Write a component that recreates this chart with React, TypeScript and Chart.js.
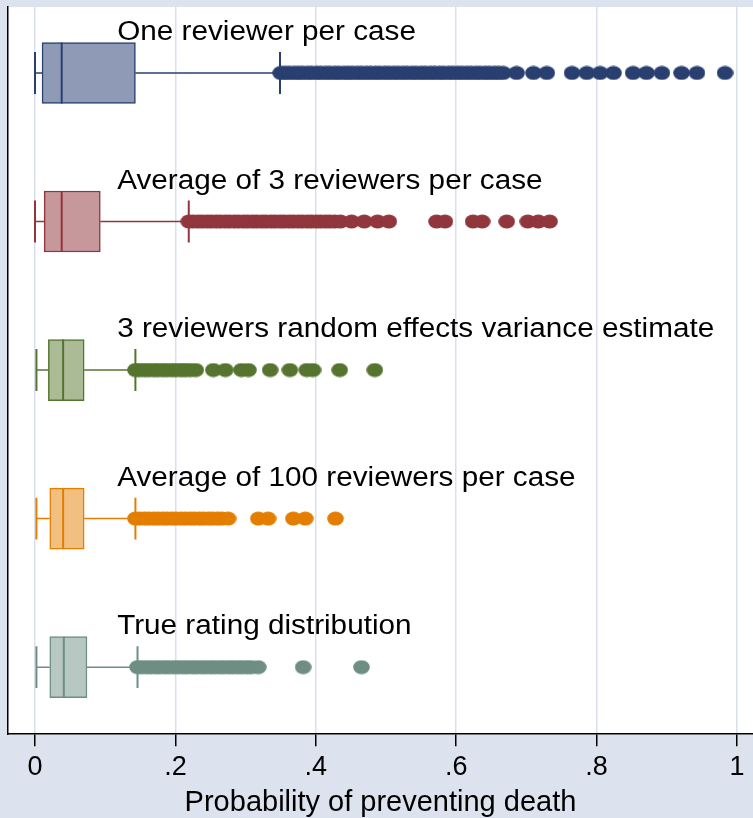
import React, { useEffect, useRef } from 'react';
import { Chart, registerables } from 'chart.js';

Chart.register(...registerables);

// ---- data ----
const categories = [
  'One reviewer per case',
  'Average of 3 reviewers per case',
  '3 reviewers random effects variance estimate',
  'Average of 100 reviewers per case',
  'True rating distribution',
];

const lowerWhisker = [0.0, 0.0, 0.002, 0.002, 0.002];
const q1 = [0.010, 0.013, 0.019, 0.021, 0.021];
const median = [0.038, 0.038, 0.040, 0.040, 0.041];
const q3 = [0.143, 0.093, 0.070, 0.070, 0.074];
const upperWhisker = [0.349, 0.219, 0.143, 0.143, 0.146];

const outliersOneReviewer = [
  0.350, 0.356, 0.362, 0.369, 0.375, 0.381, 0.388, 0.394, 0.401, 0.407, 0.414, 0.420, 0.427,
  0.433, 0.440, 0.446, 0.452, 0.459, 0.465, 0.472, 0.478, 0.485, 0.491, 0.498, 0.504, 0.511,
  0.517, 0.524, 0.530, 0.537, 0.543, 0.550, 0.556, 0.563, 0.569, 0.576, 0.582, 0.589, 0.595,
  0.602, 0.608, 0.615, 0.621, 0.628, 0.634, 0.641, 0.647, 0.654, 0.660, 0.667,
  0.686, 0.710, 0.729, 0.765, 0.786, 0.805, 0.824, 0.852, 0.871, 0.893, 0.921, 0.943, 0.983,
];
const outliersAvg3 = [
  0.219, 0.225, 0.232, 0.238, 0.245, 0.251, 0.258, 0.264, 0.271, 0.277, 0.284, 0.290, 0.297,
  0.303, 0.310, 0.316, 0.323, 0.329, 0.336, 0.342, 0.349, 0.355, 0.362, 0.368, 0.375, 0.381,
  0.388, 0.394, 0.401, 0.407, 0.414, 0.420, 0.427, 0.435,
  0.451, 0.469, 0.488, 0.504, 0.572, 0.584, 0.624, 0.637, 0.672, 0.702, 0.717, 0.733,
];
const outliersRandomEffects = [
  0.143, 0.149, 0.156, 0.162, 0.169, 0.175, 0.182, 0.188, 0.195, 0.201, 0.208, 0.214, 0.221,
  0.229, 0.254, 0.271, 0.294, 0.304, 0.335, 0.363, 0.387, 0.396, 0.434, 0.484,
];
const outliersAvg100 = [
  0.143, 0.149, 0.156, 0.162, 0.169, 0.175, 0.182, 0.188, 0.195, 0.201, 0.208, 0.214, 0.221,
  0.227, 0.234, 0.240, 0.247, 0.253, 0.260, 0.266, 0.275, 0.318, 0.332, 0.368, 0.385, 0.428,
];
const outliersTrue = [
  0.146, 0.152, 0.159, 0.165, 0.172, 0.178, 0.185, 0.191, 0.198, 0.204, 0.211, 0.217, 0.224,
  0.230, 0.237, 0.243, 0.250, 0.256, 0.263, 0.269, 0.276, 0.282, 0.289, 0.295, 0.302, 0.308,
  0.318, 0.382, 0.465,
];
const outlierSets = [outliersOneReviewer, outliersAvg3, outliersRandomEffects, outliersAvg100, outliersTrue];

const tickValues = [0, 0.2, 0.4, 0.6, 0.8, 1];
const tickLabels = ['0', '.2', '.4', '.6', '.8', '1'];
const xAxisTitle = 'Probability of preventing death';

// ---- style ----
const lineColors = ['#283f70', '#90363c', '#55752f', '#e37e00', '#6e8e84'];
const fillColors = ['#8f9bb6', '#c7989b', '#aabb96', '#f1c080', '#b6c8c1'];
const BG = 'rgb(221,226,239)';
const GRID = 'rgb(218,223,237)';
const FONT = '"Liberation Sans", Arial, sans-serif';
const BOX_HALF = 0.205;
const CAP_HALF = 0.141;
const LABEL_X = 0.117;

function makeDot(color: string): HTMLCanvasElement {
  const c = document.createElement('canvas');
  c.width = 17;
  c.height = 15;
  const ctx = c.getContext('2d')!;
  ctx.fillStyle = color;
  ctx.beginPath();
  ctx.ellipse(8.5, 7.5, 8.3, 7.0, 0, 0, Math.PI * 2);
  ctx.fill();
  return c;
}

const bgPlugin = {
  id: 'bgPlugin',
  beforeDraw(chart: any) {
    const { ctx, chartArea, width, height } = chart;
    ctx.save();
    ctx.fillStyle = BG;
    ctx.fillRect(0, 0, width, height);
    ctx.fillStyle = '#ffffff';
    ctx.fillRect(chartArea.left, chartArea.top, width - chartArea.left, chartArea.bottom - chartArea.top);
    ctx.restore();
  },
};

const labelPlugin = {
  id: 'boxLabels',
  afterDatasetsDraw(chart: any) {
    const { ctx } = chart;
    const xs = chart.scales.x;
    const ys = chart.scales.y;
    ctx.save();
    ctx.fillStyle = '#000';
    ctx.font = `27px ${FONT}`;
    ctx.textBaseline = 'alphabetic';
    ctx.textAlign = 'left';
    categories.forEach((label, i) => {
      const px = xs.getPixelForValue(LABEL_X);
      const py = ys.getPixelForValue(i + 1) - 33;
      ctx.save();
      ctx.translate(px, py);
      ctx.scale(1.1, 1);
      ctx.fillText(label, 0, 0);
      ctx.restore();
    });
    ctx.restore();
  },
};

function seg(x0: number, y0: number, x1: number, y1: number, color: string, width: number, order: number) {
  return {
    type: 'scatter',
    data: [{ x: x0, y: y0 }, { x: x1, y: y1 }],
    showLine: true,
    borderColor: color,
    borderWidth: width,
    pointRadius: 0,
    order,
  };
}

export default function App() {
  const ref = useRef<HTMLCanvasElement>(null);

  useEffect(() => {
    if (!ref.current) return;
    const datasets: any[] = [];

    datasets.push({
      type: 'bar',
      indexAxis: 'y',
      data: categories.map((_, i) => ({ x: [q1[i], q3[i]], y: i + 1 })),
      backgroundColor: fillColors,
      borderColor: lineColors,
      borderWidth: 1.5,
      borderSkipped: false,
      barThickness: 61,
      grouped: false,
      order: 5,
    });

    categories.forEach((_, i) => {
      const y = i + 1;
      const c = lineColors[i];
      datasets.push(seg(lowerWhisker[i], y, q1[i], y, c, 1.5, 4));
      datasets.push(seg(q3[i], y, upperWhisker[i], y, c, 1.5, 4));
      datasets.push(seg(lowerWhisker[i], y - CAP_HALF, lowerWhisker[i], y + CAP_HALF, c, 2, 2));
      datasets.push(seg(upperWhisker[i], y - CAP_HALF, upperWhisker[i], y + CAP_HALF, c, 2, 2));
      datasets.push(seg(median[i], y - BOX_HALF, median[i], y + BOX_HALF, c, 2, 1));
      datasets.push({
        type: 'scatter',
        data: outlierSets[i].map((v) => ({ x: v, y })),
        pointStyle: makeDot(c),
        pointRadius: 7,
        backgroundColor: c,
        borderWidth: 0,
        order: 3,
      });
    });

    const chart = new Chart(ref.current, {
      type: 'scatter',
      data: { datasets },
      options: {
        animation: false,
        responsive: false,
        devicePixelRatio: 1,
        events: [],
        layout: { autoPadding: false, padding: { left: 8, top: 7, right: 0, bottom: 1 } },
        plugins: {
          legend: { display: false },
          tooltip: { enabled: false },
          title: { display: false },
        },
        scales: {
          x: {
            type: 'linear',
            position: 'bottom',
            min: -0.0385,
            max: 1.0228,
            bounds: 'data',
            offset: false,
            afterBuildTicks: (axis: any) => {
              axis.ticks = tickValues.map((v) => ({ value: v }));
            },
            ticks: {
              callback: (_v: any, i: number) => tickLabels[i],
              color: '#000',
              font: { family: FONT, size: 27, lineHeight: 1.55 },
              padding: 0,
              maxRotation: 0,
              autoSkip: false,
            },
            grid: {
              color: GRID,
              lineWidth: 1.5,
              tickColor: '#000',
              tickLength: 12,
              tickWidth: 1.5,
              offset: false,
            },
            border: { display: true, color: '#000', width: 1.5 },
            title: {
              display: true,
              text: xAxisTitle,
              color: '#000',
              font: { family: FONT, size: 29, lineHeight: 1.0 },
              padding: { top: 0, bottom: 0 },
            },
          },
          y: {
            type: 'linear',
            position: 'left',
            min: 0.556,
            max: 5.451,
            bounds: 'data',
            offset: false,
            reverse: true,
            ticks: { display: false },
            grid: { display: false, drawTicks: false, offset: false },
            border: { display: true, color: '#000', width: 1.5 },
          },
        },
      } as any,
      plugins: [bgPlugin, labelPlugin],
    });
    return () => chart.destroy();
  }, []);

  return (
    <div style={{ position: 'absolute', left: 0, top: 0, width: 753, height: 818, background: BG }}>
      <canvas ref={ref} width={753} height={818} style={{ display: 'block' }} />
    </div>
  );
}
